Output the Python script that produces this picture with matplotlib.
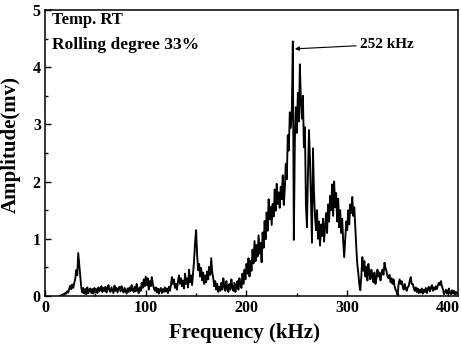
import matplotlib
matplotlib.use("Agg")
import matplotlib.pyplot as plt
import numpy as np
from matplotlib.ticker import MultipleLocator

plt.rcParams['font.family'] = ['Liberation Serif', 'DejaVu Serif']
plt.rcParams['font.weight'] = 'bold'

freq_start = 15   # kHz
freq_step = 1     # kHz
amplitude = [
    0.00, 0.01, 0.02, 0.03, 0.02, 0.05, 0.04, 0.08, 0.06, 0.12,
    0.18, 0.12, 0.20, 0.14, 0.22, 0.30, 0.45, 0.36, 0.75, 0.55,
    0.35, 0.15, 0.06, 0.14, 0.04, 0.12, 0.03, 0.15, 0.05, 0.11,
    0.13, 0.05, 0.12, 0.04, 0.14, 0.07, 0.12, 0.05, 0.15, 0.08,
    0.13, 0.17, 0.07, 0.14, 0.09, 0.16, 0.06, 0.13, 0.19, 0.09,
    0.07, 0.15, 0.10, 0.05, 0.18, 0.09, 0.14, 0.06, 0.13, 0.16,
    0.08, 0.17, 0.10, 0.06, 0.14, 0.09, 0.04, 0.13, 0.07, 0.15,
    0.09, 0.19, 0.11, 0.07, 0.16, 0.08, 0.21, 0.11, 0.05, 0.15,
    0.09, 0.23, 0.14, 0.29, 0.17, 0.34, 0.19, 0.31, 0.11, 0.26,
    0.17, 0.33, 0.21, 0.14, 0.09, 0.15, 0.06, 0.13, 0.04, 0.11,
    0.14, 0.05, 0.12, 0.07, 0.15, 0.08, 0.13, 0.05, 0.16, 0.09,
    0.19, 0.33, 0.21, 0.29, 0.14, 0.21, 0.11, 0.26, 0.36, 0.21,
    0.31, 0.17, 0.27, 0.13, 0.39, 0.21, 0.31, 0.15, 0.46, 0.24,
    0.36, 0.19, 0.41, 0.62, 0.95, 1.15, 0.72, 0.45, 0.56, 0.34,
    0.49, 0.27, 0.41, 0.21, 0.36, 0.24, 0.43, 0.29, 0.51, 0.37,
    0.66, 0.41, 0.31, 0.17, 0.26, 0.11, 0.21, 0.07, 0.16, 0.09,
    0.23, 0.11, 0.31, 0.17, 0.09, 0.26, 0.13, 0.07, 0.21, 0.11,
    0.29, 0.15, 0.09, 0.23, 0.07, 0.19, 0.26, 0.11, 0.31, 0.19,
    0.14, 0.39, 0.21, 0.46, 0.29, 0.56, 0.39, 0.66, 0.34, 0.61,
    0.44, 0.81, 0.57, 0.96, 0.61, 0.89, 0.69, 1.06, 0.74, 0.93,
    0.59, 1.11, 0.84, 1.31, 0.99, 1.46, 1.14, 1.69, 1.34, 1.56,
    1.24, 1.61, 1.39, 1.86, 1.49, 1.96, 1.61, 1.81, 1.54, 1.91,
    1.69, 2.11, 1.59, 1.86, 2.31, 2.04, 2.81, 2.54, 3.21, 2.94,
    3.25, 4.45, 0.98, 2.70, 3.30, 2.85, 3.55, 3.05, 4.05, 3.40,
    3.10, 3.50, 2.60, 2.95, 1.60, 1.20, 2.10, 2.90, 2.40, 1.70,
    0.93, 2.58, 1.80, 1.40, 1.15, 1.50, 1.00, 1.30, 0.88, 1.25,
    1.05, 1.35, 0.95, 1.20, 1.45, 1.10, 1.60, 1.30, 1.75, 1.50,
    1.95, 1.40, 2.00, 1.55, 1.80, 1.30, 1.70, 1.20, 1.50, 1.10,
    1.35, 0.95, 0.68, 1.00, 1.30, 1.15, 1.50, 1.25, 1.60, 1.45,
    1.73, 1.40, 1.55, 1.20, 0.85, 0.55, 0.40, 0.20, 0.10, 0.35,
    0.68, 0.44, 0.61, 0.34, 0.51, 0.27, 0.56, 0.39, 0.29, 0.46,
    0.34, 0.24, 0.41, 0.21, 0.31, 0.46, 0.34, 0.41, 0.27, 0.39,
    0.46, 0.37, 0.58, 0.49, 0.43, 0.34, 0.31, 0.37, 0.24, 0.31,
    0.21, 0.29, 0.17, 0.11, 0.07, 0.02, 0.21, 0.29, 0.21, 0.26,
    0.17, 0.11, 0.21, 0.14, 0.09, 0.15, 0.17, 0.26, 0.33, 0.21,
    0.21, 0.14, 0.09, 0.15, 0.07, 0.13, 0.05, 0.11, 0.06, 0.13,
    0.04, 0.11, 0.07, 0.14, 0.05, 0.12, 0.16, 0.08, 0.14, 0.19,
    0.09, 0.15, 0.11, 0.17, 0.12, 0.19, 0.23, 0.19, 0.26, 0.17,
    0.12, 0.03, 0.07, 0.11, 0.04, 0.09, 0.13, 0.05, 0.03, 0.10,
    0.04, 0.09, 0.02, 0.07, 0.04,
]
freq = freq_start + freq_step * np.arange(len(amplitude))

peak_label = "252 kHz"
info_lines = ["Temp. RT", "Rolling degree 33%"]
x_ticks = [0, 100, 200, 300, 400]
y_ticks = [0, 1, 2, 3, 4, 5]

fig = plt.figure(figsize=(4.61, 3.49), dpi=100)
ax = fig.add_axes([0.0976, 0.152, 0.896, 0.8195])
ax.plot(freq, amplitude, color='black', lw=1.35)

ax.set_xlim(0, 410)
ax.set_ylim(0, 5)
ax.set_xticks(x_ticks)
ax.set_yticks(y_ticks)
ax.xaxis.set_minor_locator(MultipleLocator(50))
ax.yaxis.set_minor_locator(MultipleLocator(0.5))
ax.tick_params(which='both', direction='in', labelsize=11.5, width=1)
ax.tick_params(which='major', length=4, pad=3)
ax.tick_params(which='minor', length=2.5)
for lab in ax.get_xticklabels() + ax.get_yticklabels():
    lab.set_fontweight('bold')
for s in ax.spines.values():
    s.set_linewidth(1.1)

ax.set_xlabel("Frequency (kHz)", fontsize=15, fontweight='bold', va='center')
ax.set_ylabel("Amplitude(mv)", fontsize=15, fontweight='bold', va='center')
ax.xaxis.set_label_coords(0.483, -0.13)
ax.yaxis.set_label_coords(-0.083, 0.528)

ax.text(7, 4.83, info_lines[0], fontsize=12, fontweight='bold', va='center')
ax.text(7, 4.38, info_lines[1], fontsize=12.5, fontweight='bold', va='center')

ax.annotate(peak_label, xy=(248, 4.32), xytext=(313, 4.40),
            fontsize=11, fontweight='bold', va='center', ha='left',
            arrowprops=dict(arrowstyle='-|>', color='black', lw=0.8,
                            mutation_scale=6, shrinkA=1, shrinkB=0))

fig.savefig("out.png", dpi=100)
